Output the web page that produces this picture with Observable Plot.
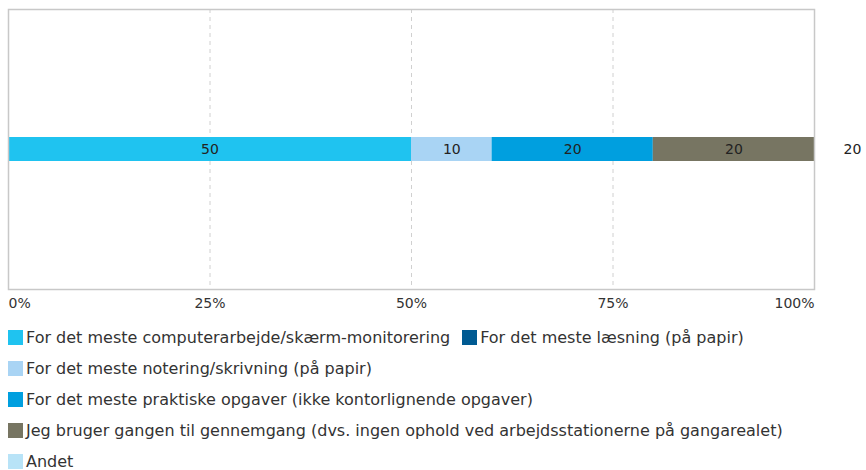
<!DOCTYPE html>
<html>
<head>
<meta charset="utf-8">
<script src="https://cdn.jsdelivr.net/npm/d3@7"></script>
<script src="https://cdn.jsdelivr.net/npm/@observablehq/plot@0.6"></script>
<style>
  body { margin: 0; background: #fff; font-family: "DejaVu Sans", Verdana, sans-serif; }
  #legend { display: flex; flex-wrap: wrap; width: 820px; column-gap: 12px; margin-left: 8px; font-size: 16px; color: #333; }
  .item { display: flex; align-items: center; height: 31px; white-space: nowrap; }
  .sw { width: 15px; height: 15px; margin-right: 3px; flex: none; }
</style>
</head>
<body>
<div id="chart"></div>
<div id="legend"></div>
<script>
const categories = [
  "For det meste computerarbejde/skærm-monitorering",
  "For det meste læsning (på papir)",
  "For det meste notering/skrivning (på papir)",
  "For det meste praktiske opgaver (ikke kontorlignende opgaver)",
  "Jeg bruger gangen til gennemgang (dvs. ingen ophold ved arbejdsstationerne på gangarealet)",
  "Andet"
];
const values = [50, 0, 10, 20, 20, 0];
const colors = ["#1fc3f0", "#005a92", "#a9d4f4", "#009fdf", "#777562", "#b8e3f7"];
const respondents = 20;
const tickValues = [0, 25, 50, 75, 100];
const tickLabels = ["0%", "25%", "50%", "75%", "100%"];

const row = "r";
const data = categories.map((c, i) => ({category: c, value: values[i], row}));
const ticks = tickValues.map((v, i) => ({v, label: tickLabels[i]}));

const chart = Plot.plot({
  width: 866,
  height: 322,
  marginLeft: 8,
  marginRight: 52,
  marginTop: 9,
  marginBottom: 33,
  style: {fontFamily: "DejaVu Sans, Verdana, sans-serif", fontSize: "14px", color: "#333"},
  x: {domain: [0, 100], axis: null},
  y: {domain: [row], axis: null, padding: 0},
  color: {domain: categories, range: colors},
  marks: [
    Plot.ruleX([25, 50, 75], {stroke: "#d0d0d0", strokeDasharray: "4,4", strokeWidth: 1}),
    Plot.barX(data.filter(d => d.value > 0), Plot.stackX({x: "value", y: "row", fill: "category", order: null, insetTop: 128, insetBottom: 128})),
    Plot.text(data.filter(d => d.value > 0), Plot.stackX({x: "value", y: "row", text: d => String(d.value), order: null, fill: "#222", fontSize: 14})),
    Plot.text([respondents], {x: 100, y: [row], text: d => String(d), dx: 38, fill: "#222", fontSize: 14}),
    Plot.frame({stroke: "#c8c8c8", strokeWidth: 1.5}),
    Plot.text(ticks.slice(0, 1), {x: "v", text: "label", frameAnchor: "bottom", dy: 18, textAnchor: "start", fill: "#333"}),
    Plot.text(ticks.slice(1, -1), {x: "v", text: "label", frameAnchor: "bottom", dy: 18, fill: "#333"}),
    Plot.text(ticks.slice(-1), {x: "v", text: "label", frameAnchor: "bottom", dy: 18, textAnchor: "end", fill: "#333"})
  ]
});
document.getElementById("chart").appendChild(chart);

const legend = document.getElementById("legend");
categories.forEach((c, i) => {
  const item = document.createElement("div");
  item.className = "item";
  const sw = document.createElement("span");
  sw.className = "sw";
  sw.style.background = colors[i];
  const t = document.createElement("span");
  t.textContent = c;
  item.appendChild(sw);
  item.appendChild(t);
  legend.appendChild(item);
});
</script>
</body>
</html>
